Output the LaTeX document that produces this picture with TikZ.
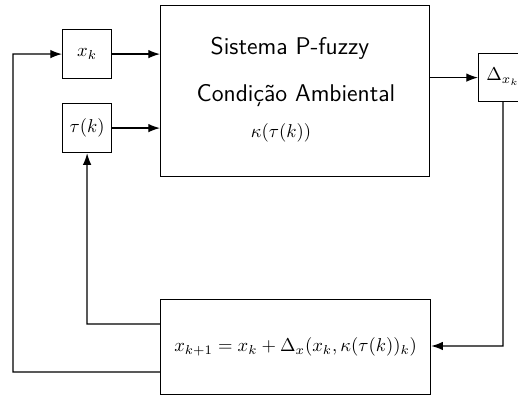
\documentclass[tikz,border=0pt]{standalone}
\usetikzlibrary{arrows.meta}
\begin{document}
\begin{tikzpicture}[x=0.5376pt,y=-0.5376pt,
  blk/.style={draw,line width=0.65pt,inner sep=0pt,anchor=north west},
  conn/.style={line width=0.65pt},
  arr/.style={conn,-{Latex[length=6.3pt,width=4.6pt]}},
  sf/.style={font=\sffamily\fontsize{13}{16}\selectfont}]
\useasboundingbox (0,0) rectangle (518,396);
% blocks
\node[blk,minimum width=49*0.5376pt,minimum height=49*0.5376pt] (xk) at (62,29) {};
\node at (xk.center) {$x_k$};
\node[blk,minimum width=49*0.5376pt,minimum height=49*0.5376pt] (tau) at (62,103) {};
\node at (tau.center) {$\tau(k)$};
\node[blk,minimum width=269*0.5376pt,minimum height=171*0.5376pt] (sys) at (160,5) {};
\node[sf] (t1) at (290,48) {Sistema P-fuzzy};
\node[sf] (t2) at (296,96) {Condição Ambiental};
\node (t3) at (281,133) {$\kappa(\tau(k))$};
\node[blk,minimum width=49*0.5376pt,minimum height=48*0.5376pt] (dx) at (478,53) {};
\node (dxt) at (503,77) {$\Delta_{x_k}$};
\node[blk,minimum width=270*0.5376pt,minimum height=95*0.5376pt] (upd) at (160,299) {};
\node at (upd.center) {$x_{k+1} = x_k + \Delta_x(x_k,\kappa(\tau(k))_k)$};
% connectors
\coordinate (c1) at (503,346);
\coordinate (c2) at (87,324);
\coordinate (c3) at (13,372);
\coordinate (c4) at (13,54);
\draw[arr] (xk.east) -- (xk.east -| sys.west);
\draw[arr] (tau.east) -- (tau.east -| sys.west);
\draw[arr] (sys.east |- dx.west) -- (dx.west);
\draw[arr] (dx.south) -- (c1) -- (c1 -| upd.east);
\draw[arr] (c2 -| upd.west) -- (c2) -- (tau.south);
\draw[arr] (c3 -| upd.west) -- (c3) -- (c4) -- (xk.west);
\end{tikzpicture}
\end{document}
